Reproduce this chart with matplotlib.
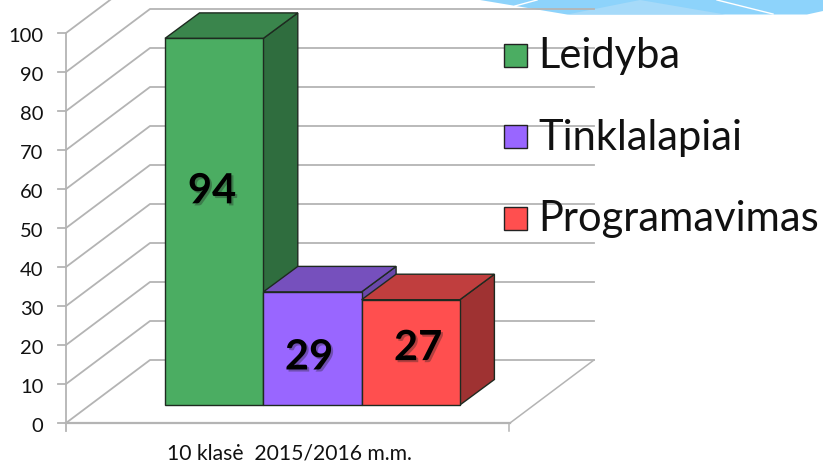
import matplotlib
matplotlib.use('Agg')
import matplotlib.pyplot as plt
import matplotlib.patheffects as pe
from matplotlib.patches import Polygon, Rectangle

names = ['Leidyba', 'Tinklalapiai', 'Programavimas']
values = [94, 29, 27]
face_colors = ['#4bad62', '#9966ff', '#ff4f4f']
top_colors = ['#3a854c', '#7650bd', '#c03e3e']
side_colors = ['#2f6d3e', '#6a48aa', '#9f3232']
y_ticks = [0, 10, 20, 30, 40, 50, 60, 70, 80, 90, 100]
category = '10 klasė  2015/2016 m.m.'

plt.rcParams['font.family'] = ['Lato', 'DejaVu Sans']

# one axes over the whole figure, x in pixels, y in chart units (3.9 px per unit, 0 at row 423)
px = 3.9
fig = plt.figure(figsize=(8.23, 4.65), dpi=100)
ax = fig.add_axes([0, 0, 1, 1])
ax.set_xlim(0, 823)
ax.set_ylim(-42 / px, 423 / px)
ax.axis('off')


def row(p):
    # image row to y units, for the decoration only
    return (423 - p) / px


# banner at the top edge
ax.add_patch(Polygon([(480, row(0)), (823, row(0)), (823, row(11)), (807, row(14.5)), (567, row(14.5))],
                     fc='#8dd3fb', ec='none', zorder=0))
ax.add_patch(Polygon([(567, row(14.5)), (640, row(0)), (725, row(14.5))], fc='#a6daf9', ec='none', zorder=0))
ax.plot([515, 537], [row(6), row(0)], color='white', lw=1, zorder=0)
ax.plot([717, 773], [row(0), row(14)], color='white', lw=1, zorder=0)

grid = '#b4b4b4'
wall_x = 66
back_dx, back_dy = 84, 63 / px
floor_right = 510

# walls and floor
for t in y_ticks:
    ax.plot([wall_x, wall_x + back_dx, floor_right + back_dx],
            [t, t + back_dy, t + back_dy], color=grid, lw=1.3, zorder=1)
    ax.plot([wall_x - 8, wall_x], [t, t], color=grid, lw=1.3, zorder=1)
    ax.text(43.5, t - 0.8, str(t), ha='right', va='center', fontsize=14.5, color='#111111')
ax.plot([wall_x, wall_x], [-2, 100], color=grid, lw=1.3, zorder=1)
ax.plot([wall_x, floor_right], [0, 0], color=grid, lw=1.6, zorder=1)
ax.plot([floor_right, floor_right + back_dx], [0, back_dy], color=grid, lw=1.1, zorder=1)
ax.plot([floor_right - 1, floor_right - 1], [-2, 0], color=grid, lw=1.1, zorder=1)

# bars
bar_left = 165
bar_w = 98.3
bar_base = 18 / px
bar_dx, bar_dy = 34.5, 25.5 / px
edge = '#1e2a20'
for i, v in enumerate(values):
    x0 = bar_left + i * bar_w
    x1 = x0 + bar_w
    y0 = bar_base
    y1 = bar_base + v
    ax.add_patch(Polygon([(x1, y0), (x1 + bar_dx, y0 + bar_dy), (x1 + bar_dx, y1 + bar_dy), (x1, y1)],
                         fc=side_colors[i], ec=edge, lw=1, zorder=2 + i))
    ax.add_patch(Polygon([(x0, y1), (x1, y1), (x1 + bar_dx, y1 + bar_dy), (x0 + bar_dx, y1 + bar_dy)],
                         fc=top_colors[i], ec=edge, lw=1, zorder=2 + i))
    ax.add_patch(Rectangle((x0, y0), bar_w, v, fc=face_colors[i], ec=edge, lw=1, zorder=2 + i))

# data labels, placed by hand like in the original
label_pos = [(212, 59.4), (309, 16.8), (418, 19.2)]
for (lx, ly), v in zip(label_pos, values):
    ax.text(lx, ly, str(v), ha='center', va='center', fontsize=30, fontweight='bold', color='black',
            zorder=10, path_effects=[pe.withSimplePatchShadow(offset=(1.5, -1.5), shadow_rgbFace='#222222', alpha=0.35)])

ax.text(289, -7.7, category, ha='center', va='center', fontsize=15.2, color='#111111')

# legend
legend_rows = [56, 137.5, 219]
for name, col, r in zip(names, face_colors, legend_rows):
    yy = row(r)
    ax.add_patch(Rectangle((504.5, row(r - 1) - 11.5 / px), 23, 23 / px, fc=col, ec='#222222', lw=1, zorder=5))
    ax.text(538.5, yy, name, ha='left', va='center', fontsize=30, color='#111111')

fig.savefig('out.png', dpi=100)
